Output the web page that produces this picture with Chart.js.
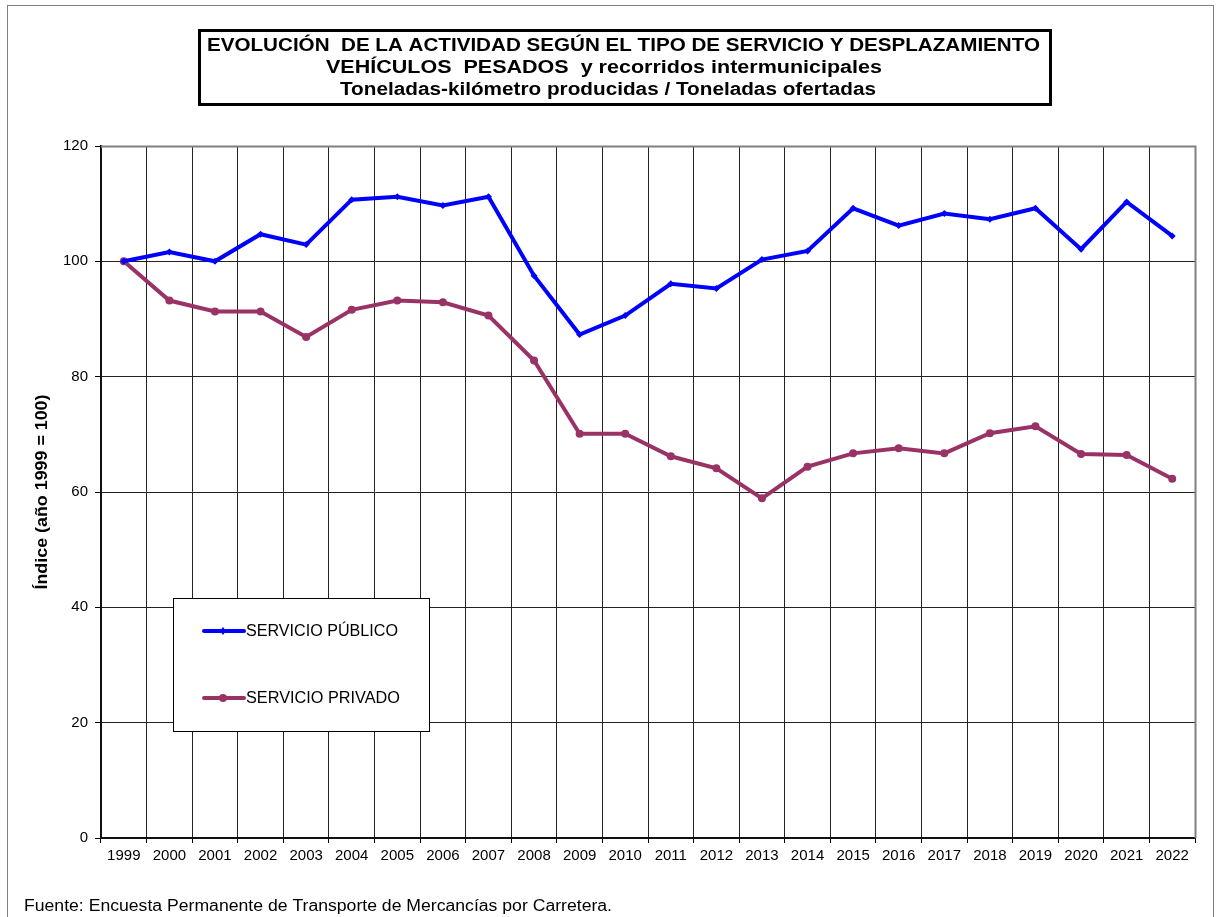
<!DOCTYPE html>
<html>
<head>
<meta charset="utf-8">
<script src="https://cdn.jsdelivr.net/npm/chart.js@4/dist/chart.umd.min.js"></script>
<style>
  html, body { margin: 0; padding: 0; background: #fff; }
  canvas { display: block; }
</style>
</head>
<body>
<canvas id="c" width="1218" height="917"></canvas>
<script>
const years = ["1999","2000","2001","2002","2003","2004","2005","2006","2007","2008","2009","2010","2011","2012","2013","2014","2015","2016","2017","2018","2019","2020","2021","2022"];
const servicioPublico = [100, 101.6, 100.0, 104.7, 102.9, 110.7, 111.2, 109.7, 111.2, 97.5, 87.3, 90.6, 96.1, 95.3, 100.3, 101.8, 109.2, 106.2, 108.3, 107.3, 109.2, 102.1, 110.3, 104.4];
const servicioPrivado = [100, 93.2, 91.3, 91.3, 86.9, 91.6, 93.2, 92.9, 90.6, 82.8, 70.1, 70.1, 66.2, 64.1, 58.9, 64.4, 66.7, 67.6, 66.7, 70.2, 71.4, 66.6, 66.4, 62.3];
const yTicks = [0, 20, 40, 60, 80, 100, 120];
const seriesNames = ["SERVICIO PÚBLICO", "SERVICIO PRIVADO"];
const titleLines = [
  "EVOLUCIÓN  DE LA ACTIVIDAD SEGÚN EL TIPO DE SERVICIO Y DESPLAZAMIENTO",
  "VEHÍCULOS  PESADOS  y recorridos intermunicipales",
  "Toneladas-kilómetro producidas / Toneladas ofertadas"
];
const yTitle = "Índice (año 1999 = 100)";
const footnote = "Fuente: Encuesta Permanente de Transporte de Mercancías por Carretera.";

const BLUE = "#0000FF";
const PLUM = "#993366";
const FONT = "Arial, 'Liberation Sans', sans-serif";

// draw text horizontally fitted to a target width; anchor: 'left' or 'center'
function fitText(ctx, text, x, y, width, anchor) {
  const w = ctx.measureText(text).width;
  const sx = width / w;
  ctx.save();
  ctx.translate(x, y);
  ctx.scale(sx, 1);
  ctx.textAlign = anchor;
  ctx.fillText(text, 0, 0);
  ctx.restore();
}

const decor = {
  id: "decor",
  afterDraw(chart) {
    const ctx = chart.ctx;
    const a = chart.chartArea;
    ctx.save();
    // outer border
    ctx.strokeStyle = "#808080";
    ctx.lineWidth = 1;
    ctx.strokeRect(7.5, 5.5, 1206, 940);
    // plot top and right border
    ctx.beginPath();
    ctx.moveTo(a.left, a.top + 0.5);
    ctx.lineTo(a.right + 0.5, a.top + 0.5);
    ctx.lineTo(a.right + 0.5, a.bottom);
    ctx.strokeStyle = "#808080";
    ctx.lineWidth = 2;
    ctx.stroke();

    // title box
    ctx.fillStyle = "#fff";
    ctx.fillRect(199, 30, 852, 75);
    ctx.strokeStyle = "#000";
    ctx.lineWidth = 3;
    ctx.strokeRect(199.5, 30.5, 851, 74);
    ctx.fillStyle = "#000";
    ctx.textBaseline = "middle";
    ctx.font = "bold 18px " + FONT;
    fitText(ctx, titleLines[0], 623.5, 46, 833, "center");
    fitText(ctx, titleLines[1], 604, 68, 556, "center");
    fitText(ctx, titleLines[2], 608, 90, 536, "center");

    // y axis title
    ctx.save();
    ctx.translate(42, (a.top + a.bottom) / 2);
    ctx.rotate(-Math.PI / 2);
    ctx.font = "bold 17px " + FONT;
    fitText(ctx, yTitle, 0, 0, 195, "center");
    ctx.restore();

    // footnote
    ctx.font = "16px " + FONT;
    fitText(ctx, footnote, 24, 907, 588, "left");

    // legend box
    ctx.fillStyle = "#fff";
    ctx.fillRect(173, 598, 256, 133);
    ctx.strokeStyle = "#000";
    ctx.lineWidth = 1;
    ctx.strokeRect(173.5, 598.5, 256, 133);
    const rows = [631, 698];
    chart.data.datasets.forEach((ds, i) => {
      const y = rows[i];
      ctx.beginPath();
      ctx.moveTo(204, y);
      ctx.lineTo(244, y);
      ctx.strokeStyle = ds.borderColor;
      ctx.lineWidth = 4;
      ctx.lineCap = "round";
      ctx.stroke();
      ctx.fillStyle = ds.borderColor;
      ctx.beginPath();
      if (ds.pointStyle === "circle") {
        ctx.arc(223, y, 4, 0, Math.PI * 2);
      } else {
        ctx.moveTo(223, y - 4); ctx.lineTo(226, y); ctx.lineTo(223, y + 4); ctx.lineTo(220, y); ctx.closePath();
      }
      ctx.fill();
      ctx.fillStyle = "#000";
      ctx.font = "16px " + FONT;
      ctx.textBaseline = "middle";
      fitText(ctx, ds.label, 246, y + 1, i === 0 ? 152 : 154, "left");
    });
    ctx.restore();
  }
};

new Chart(document.getElementById("c"), {
  type: "line",
  data: {
    labels: years,
    datasets: [
      {
        label: seriesNames[0],
        data: servicioPublico,
        borderColor: BLUE,
        backgroundColor: BLUE,
        borderWidth: 4,
        pointStyle: "rectRot",
        pointRadius: 3.5,
        pointBorderWidth: 0,
        tension: 0
      },
      {
        label: seriesNames[1],
        data: servicioPrivado,
        borderColor: PLUM,
        backgroundColor: PLUM,
        borderWidth: 4,
        pointStyle: "circle",
        pointRadius: 4,
        pointBorderWidth: 0,
        tension: 0
      }
    ]
  },
  options: {
    responsive: false,
    devicePixelRatio: 1,
    animation: false,
    layout: { padding: { left: 0, top: 146, right: 23, bottom: 0 } },
    plugins: { legend: { display: false }, title: { display: false }, tooltip: { enabled: false } },
    scales: {
      x: {
        type: "category",
        offset: true,
        afterFit(s) { s.height = 79; },
        grid: {
          offset: true,
          color: "#222",
          lineWidth: 1,
          borderDash: [1, 2],
          drawTicks: true,
          tickLength: 5,
          tickColor: "#000",
          tickBorderDash: [],
          tickWidth: 1
        },
        border: { display: true, color: "#111", width: 2 },
        ticks: {
          color: "#000",
          font: { family: FONT, size: 15 },
          padding: 4,
          maxRotation: 0,
          autoSkip: false
        }
      },
      y: {
        min: 0,
        max: 120,
        afterFit(s) { s.width = 101; },
        afterBuildTicks(s) { s.ticks = yTicks.map(v => ({ value: v })); },
        grid: {
          color: "#222",
          lineWidth: 1,
          borderDash: [1, 2],
          drawTicks: true,
          tickLength: 6,
          tickColor: "#000",
          tickBorderDash: [],
          tickWidth: 1
        },
        border: { display: true, color: "#111", width: 2 },
        ticks: {
          color: "#000",
          font: { family: FONT, size: 15 },
          padding: 7
        }
      }
    }
  },
  plugins: [decor]
});
</script>
</body>
</html>
